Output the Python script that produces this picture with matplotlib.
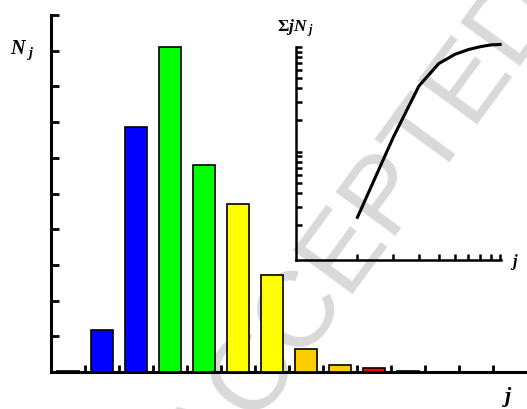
import matplotlib
matplotlib.use("Agg")
import matplotlib.pyplot as plt
import numpy as np

plt.rcParams["mathtext.fontset"] = "custom"
plt.rcParams["mathtext.it"] = "Liberation Serif:italic:bold"
plt.rcParams["mathtext.rm"] = "Liberation Serif:bold"
plt.rcParams["mathtext.bf"] = "Liberation Serif:bold"

# histogram of N_j
j_values = [0, 1, 2, 3, 4, 5, 6, 7, 8, 9, 10]
n_j = [0.03, 1.18, 6.87, 9.1, 5.8, 4.7, 2.72, 0.65, 0.2, 0.12, 0.03]
bar_colors = ["white", "#0000ff", "#0000ff", "#00ff00", "#00ff00", "#ffff00",
              "#ffff00", "#ffcc00", "#ffcc00", "#ff0000", "#cccccc"]

# inset: cumulative sum of j*N_j (log-log)
inset_j = [2, 3, 4, 5, 6, 7, 8, 9, 10]
inset_sum = [0.237, 1.38, 4.22, 6.9, 8.45, 9.4, 10.0, 10.4, 10.5]

W, H = 527, 409
fig = plt.figure(figsize=(W / 100, H / 100), dpi=100)

# watermark behind everything
fig.text(365 / W, 1 - 230 / H, "ACCEPTED", rotation=53.7, rotation_mode="anchor",
         ha="center", va="center", fontsize=78, family="Liberation Sans",
         color="#d9d9d9", zorder=-5)

ax = fig.add_axes([51 / W, 37 / H, 476 / W, 357 / H])
ax.set_facecolor("none")
ax.bar(j_values, n_j, width=0.66, color=bar_colors, edgecolor="black", linewidth=1.2, zorder=3)
ax.set_xlim(-0.5, 13.5)
ax.set_ylim(0, 10)
ax.set_xticks(np.arange(0.5, 13.0, 1.0))
ax.set_yticks(np.arange(1, 11, 1))
ax.set_xticklabels([])
ax.set_yticklabels([])
ax.tick_params(axis="both", direction="in", length=6, width=2)
ax.tick_params(axis="x", length=5)
for side in ["top", "right"]:
    ax.spines[side].set_visible(False)
for side in ["left", "bottom"]:
    ax.spines[side].set_linewidth(2.2)

# inset
ax2 = fig.add_axes([296 / W, 149 / H, 205 / W, 213.3 / H])
ax2.set_facecolor("none")
ax2.plot(inset_j, inset_sum, color="black", linewidth=2.2, clip_on=False, zorder=4)
ax2.set_xscale("log")
ax2.set_yscale("log")
ax2.set_xlim(1, 10.1)
ax2.set_ylim(0.093, 10)
ax2.set_xticks([2, 3, 4, 5, 6, 7, 8, 9, 10])
ax2.set_xticks([], minor=True)
ax2.set_yticks([0.2, 0.3, 0.4, 0.5, 0.6, 0.7, 0.8, 0.9, 1, 2, 3, 4, 5, 6, 7, 8, 9, 10])
ax2.set_yticks([], minor=True)
ax2.set_xticklabels([])
ax2.set_yticklabels([])
ax2.tick_params(axis="both", direction="in", length=4, width=1.8)
for side in ["top", "right"]:
    ax2.spines[side].set_visible(False)
for side in ["left", "bottom"]:
    ax2.spines[side].set_linewidth(1.8)

# labels
fig.text(10 / W, 1 - 54 / H, r"$N_{\ j}$", fontsize=14.5, ha="left", va="baseline")
fig.text(277 / W, 1 - 32 / H, r"$\Sigma jN_{\ j}$", fontsize=12.5, ha="left", va="baseline")
fig.text(508 / W, 1 - 397 / H, r"$j$", fontsize=16, ha="center", va="center")
fig.text(514 / W, 1 - 262 / H, r"$j$", fontsize=12, ha="center", va="center")

plt.savefig("out.png", dpi=100)
